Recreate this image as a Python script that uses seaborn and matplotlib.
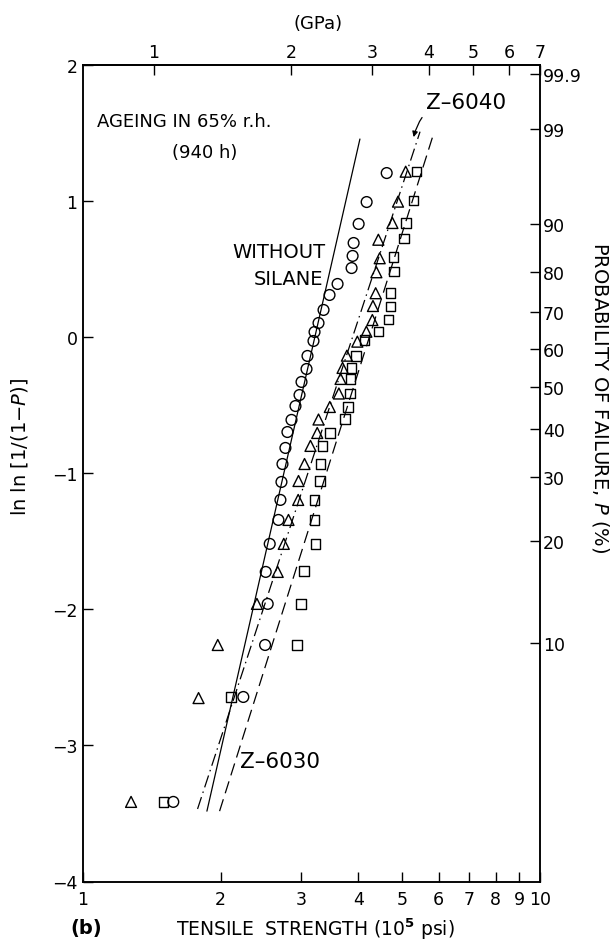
import numpy as np
import matplotlib
matplotlib.use("Agg")
import matplotlib.pyplot as plt
import seaborn as sns
from matplotlib.ticker import FixedLocator, FixedFormatter, NullLocator

# ---------------- data ----------------
# tensile strength (10^5 psi) and ln ln[1/(1-P)]
without_x = [1.576, 2.243, 2.503, 2.536, 2.511, 2.562, 2.677, 2.704, 2.718, 2.732,
             2.773, 2.801, 2.859, 2.917, 2.977, 3.007, 3.084, 3.099, 3.194, 3.211,
             3.276, 3.360, 3.463, 3.606, 3.870, 3.890, 3.910, 4.010, 4.175, 4.619]
without_y = [-3.415, -2.644, -2.262, -1.960, -1.725, -1.519, -1.343, -1.196, -1.064, -0.932,
             -0.814, -0.697, -0.608, -0.506, -0.425, -0.329, -0.234, -0.138, -0.028, 0.038,
             0.104, 0.200, 0.310, 0.391, 0.508, 0.597, 0.692, 0.832, 0.993, 1.206]

z6040_x = [1.274, 1.790, 1.972, 2.402, 2.667, 2.750, 2.816, 2.957, 2.962, 3.053,
           3.146, 3.255, 3.276, 3.468, 3.630, 3.661, 3.698, 3.780, 3.984, 4.169,
           4.297, 4.310, 4.369, 4.385, 4.459, 4.429, 4.754, 4.890, 5.083]
z6040_y = [-3.415, -2.652, -2.262, -1.960, -1.725, -1.519, -1.343, -1.196, -1.057, -0.932,
           -0.799, -0.704, -0.605, -0.513, -0.414, -0.307, -0.226, -0.136, -0.033, 0.040,
           0.126, 0.229, 0.323, 0.477, 0.580, 0.716, 0.839, 0.996, 1.216]

z6030_x = [1.500, 2.109, 2.942, 3.002, 3.042, 3.227, 3.215, 3.211, 3.298, 3.309,
           3.338, 3.468, 3.740, 3.803, 3.837, 3.851, 3.870, 3.960, 4.133, 4.429,
           4.666, 4.706, 4.713, 4.792, 4.778, 5.040, 5.091, 5.285, 5.365]
z6030_y = [-3.415, -2.644, -2.262, -1.960, -1.718, -1.519, -1.343, -1.196, -1.057, -0.932,
           -0.799, -0.704, -0.601, -0.513, -0.414, -0.307, -0.226, -0.138, -0.021, 0.043,
           0.128, 0.227, 0.325, 0.481, 0.589, 0.727, 0.839, 1.003, 1.216]

# fitted Weibull lines (end points)
without_fit_x = [1.867, 4.036]
without_fit_y = [-3.483, 1.456]
z6040_fit_x = [1.781, 5.464]
z6040_fit_y = [-3.467, 1.510]
z6030_fit_x = [1.990, 5.817]
z6030_fit_y = [-3.483, 1.469]

# axes ticks
x_ticks = [1, 2, 3, 4, 5, 6, 7, 8, 9, 10]
y_ticks = [-4, -3, -2, -1, 0, 1, 2]
gpa_ticks = [1, 2, 3, 4, 5, 6, 7]
prob_ticks = [99.9, 99, 90, 80, 70, 60, 50, 40, 30, 20, 10]
PSI_PER_GPA = 1.428   # scale of the drawn top axis (10^5 psi per GPa)

# ---------------- style ----------------
sns.set_theme(style="ticks")
plt.rcParams["font.family"] = ["DejaVu Sans"]
plt.rcParams["mathtext.fontset"] = "dejavusans"
plt.rcParams["axes.linewidth"] = 1.1
for key in ["text.color", "axes.labelcolor", "xtick.color", "ytick.color",
            "axes.edgecolor", "xtick.labelcolor", "ytick.labelcolor"]:
    plt.rcParams[key] = "black"

W, H = 615, 945
fig = plt.figure(figsize=(W / 100, H / 100), dpi=100)
fig.patch.set_facecolor("white")
L, R, T, B = 83, 540, 66, 882.5
ax = fig.add_axes([L / W, 1 - B / H, (R - L) / W, (B - T) / H])
ax.set_facecolor("white")

# ---------------- marks ----------------
sns.scatterplot(x=without_x, y=without_y, ax=ax, marker="o", s=60,
                facecolor="none", edgecolor="black", linewidth=1.0, zorder=3)
sns.scatterplot(x=z6040_x, y=z6040_y, ax=ax, marker="^", s=62,
                facecolor="none", edgecolor="black", linewidth=1.0, zorder=3)
sns.scatterplot(x=z6030_x, y=z6030_y, ax=ax, marker="s", s=46,
                facecolor="none", edgecolor="black", linewidth=1.0, zorder=3)

sns.lineplot(x=without_fit_x, y=without_fit_y, ax=ax, color="black", lw=0.9,
             estimator=None, sort=False)
sns.lineplot(x=z6040_fit_x, y=z6040_fit_y, ax=ax, color="black", lw=0.9,
             linestyle=(0, (10, 3.5, 1.2, 3.5)), estimator=None, sort=False)
sns.lineplot(x=z6030_fit_x, y=z6030_fit_y, ax=ax, color="black", lw=0.9,
             linestyle=(0, (10, 5)), estimator=None, sort=False)

# ---------------- axes ----------------
ax.set_xscale("log")
ax.set_xlim(1, 10)
ax.set_ylim(-4, 2)
ax.xaxis.set_major_locator(FixedLocator(x_ticks))
ax.xaxis.set_major_formatter(FixedFormatter([str(v) for v in x_ticks]))
ax.xaxis.set_minor_locator(NullLocator())
ax.yaxis.set_major_locator(FixedLocator(y_ticks))
ax.yaxis.set_major_formatter(FixedFormatter(["\u2212" + str(-v) if v < 0 else str(v) for v in y_ticks]))
ax.yaxis.set_minor_locator(NullLocator())
ax.tick_params(axis="x", direction="in", length=7, width=1, labelsize=12.5, pad=6,
               top=False, bottom=True, colors="black")
ax.tick_params(axis="y", direction="in", length=7, width=1, labelsize=12.5, pad=4,
               left=True, right=False, colors="black")
ax.set_xlabel("")
ax.set_ylabel("")
for s in ax.spines.values():
    s.set_color("black")
    s.set_linewidth(1.1)

# top axis in GPa
sec = ax.secondary_xaxis("top", functions=(lambda x: x / PSI_PER_GPA,
                                           lambda g: g * PSI_PER_GPA))
sec.xaxis.set_major_locator(FixedLocator(gpa_ticks))
sec.xaxis.set_major_formatter(FixedFormatter([str(v) for v in gpa_ticks]))
sec.xaxis.set_minor_locator(NullLocator())
sec.tick_params(direction="in", length=7, width=1, labelsize=12.5, pad=3, colors="black")

# right axis: probability of failure
twin = ax.twinx()
twin.set_ylim(ax.get_ylim())
prob_pos = [np.log(-np.log(1 - p / 100.0)) for p in prob_ticks]
twin.yaxis.set_major_locator(FixedLocator(prob_pos))
twin.yaxis.set_major_formatter(FixedFormatter([f"{p:g}" for p in prob_ticks]))
twin.yaxis.set_minor_locator(NullLocator())
twin.tick_params(axis="y", direction="in", length=7, width=1, labelsize=12.5, pad=2,
                 colors="black")
twin.grid(False)
ax.grid(False)

# ---------------- text ----------------
ax.text(1.073, 1.591, "AGEING IN 65% r.h.", fontsize=13, ha="left", va="center")
ax.text(1.846, 1.361, "(940 h)", fontsize=13, ha="center", va="center")
ax.text(3.395, 0.626, "WITHOUT", fontsize=14, ha="right", va="center")
ax.text(3.360, 0.428, "SILANE", fontsize=14, ha="right", va="center")
ax.text(2.210, -3.114, "Z\u20136030", fontsize=15.5, ha="left", va="center")
ax.annotate("Z\u20136040", xy=(5.29, 1.47), xytext=(5.62, 1.728),
            fontsize=15.5, ha="left", va="center",
            arrowprops=dict(arrowstyle="-|>", color="black", lw=0.9,
                            mutation_scale=8, shrinkA=2, shrinkB=0,
                            connectionstyle="arc3,rad=0.45"))

fig.text(318 / W, 1 - 24 / H, "(GPa)", fontsize=13, ha="center", va="center")
fig.text(86 / W, 1 - 929 / H, "(b)", fontsize=14, ha="center", va="center",
         fontweight="bold")
fig.text(315 / W, 1 - 929 / H, "TENSILE  STRENGTH (10$^{\\mathbf{5}}$ psi)",
         fontsize=13.5, ha="center", va="center")
fig.text(20 / W, 1 - 447 / H, "ln ln [1/(1\u2212$P$)]", fontsize=14,
         rotation=90, ha="center", va="center")
fig.text(601 / W, 1 - 398 / H, "PROBABILITY OF FAILURE, $P$ (%)", fontsize=14,
         rotation=270, ha="center", va="center")

fig.savefig("out.png", dpi=100, facecolor="white")
